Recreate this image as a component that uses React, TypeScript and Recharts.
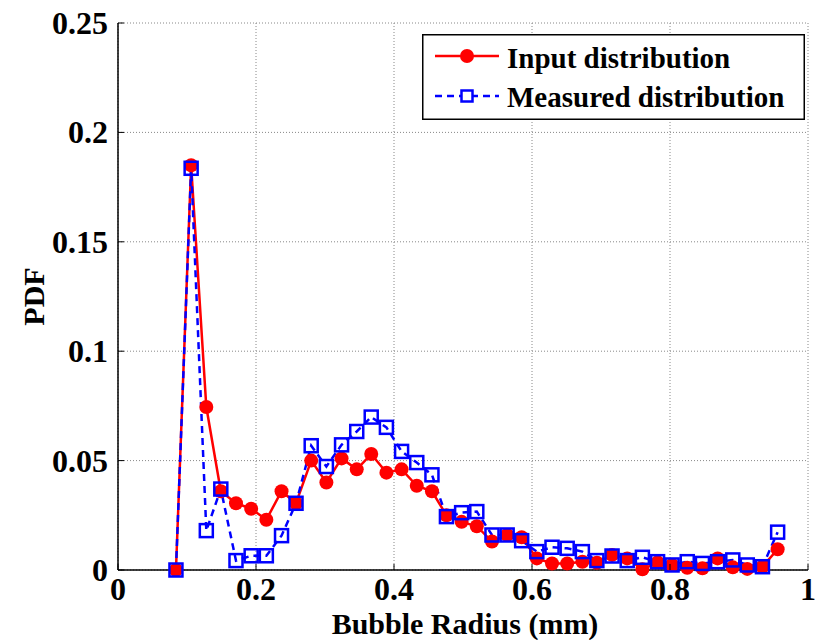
import { LineChart, Line, XAxis, YAxis, CartesianGrid, Legend } from "recharts";

// bubble radius bin centres (mm)
const radius = [
  0.084, 0.106, 0.128, 0.149, 0.171, 0.193, 0.215, 0.237, 0.258, 0.28, 0.302,
  0.324, 0.346, 0.367, 0.389, 0.411, 0.433, 0.455, 0.476, 0.498, 0.52, 0.542,
  0.564, 0.585, 0.607, 0.629, 0.651, 0.673, 0.694, 0.716, 0.738, 0.76, 0.782,
  0.803, 0.825, 0.847, 0.869, 0.891, 0.912, 0.934, 0.956,
];

const inputPdf = [
  0, 0.185, 0.0745, 0.036, 0.0305, 0.028, 0.023, 0.036, 0.0305, 0.05, 0.04,
  0.051, 0.046, 0.053, 0.0445, 0.046, 0.0385, 0.036, 0.025, 0.022, 0.02, 0.013,
  0.016, 0.015, 0.0053, 0.003, 0.003, 0.0038, 0.0033, 0.0069, 0.0053, 0.0003,
  0.0035, 0.0023, 0.001, 0.0008, 0.0053, 0.0012, 0.0005, 0.0015, 0.0095,
];

const measuredPdf = [
  0, 0.1836, 0.018, 0.037, 0.0043, 0.0065, 0.0065, 0.0157, 0.0305, 0.0568,
  0.0473, 0.0572, 0.0633, 0.0699, 0.0652, 0.0542, 0.0491, 0.0435, 0.0244,
  0.0262, 0.0267, 0.016, 0.016, 0.0134, 0.0084, 0.0104, 0.0099, 0.0084, 0.0043,
  0.0064, 0.0043, 0.0058, 0.0038, 0.0023, 0.0038, 0.003, 0.0038, 0.0046, 0.0023,
  0.0015, 0.0173,
];

const xTicks = [0, 0.2, 0.4, 0.6, 0.8, 1];
const yTicks = [0, 0.05, 0.1, 0.15, 0.2, 0.25];

const seriesNames = ["Input distribution", "Measured distribution"];

const data = radius.map((r, i) => ({
  r,
  input: inputPdf[i],
  measured: measuredPdf[i],
}));

// serif face, like MATLAB's Times
const serif = {
  fontFamily: '"Liberation Serif", "Times New Roman", Tinos, "DejaVu Serif", serif',
  fontWeight: 700,
};

const fmt = (v: number) => (v === 0 ? "0" : String(v));

const BottomTick = (props: any) => {
  const { x, y, payload } = props;
  const axisY = y - 8;
  return (
    <g>
      <line x1={x} x2={x} y1={axisY} y2={axisY - 6} stroke="#000" />
      <text x={x} y={y + 22} textAnchor="middle" style={{ ...serif, fontSize: 32 }} fill="#000">
        {fmt(payload.value)}
      </text>
    </g>
  );
};

const TopTick = (props: any) => {
  const { x, y } = props;
  return <line x1={x} x2={x} y1={y} y2={y + 6} stroke="#000" />;
};

const LeftTick = (props: any) => {
  const { x, y, payload } = props;
  const axisX = x + 10;
  return (
    <g>
      <line x1={axisX} x2={axisX + 6} y1={y} y2={y} stroke="#000" />
      <text x={x} y={y + 11} textAnchor="end" style={{ ...serif, fontSize: 32 }} fill="#000">
        {fmt(payload.value)}
      </text>
    </g>
  );
};

const RightTick = (props: any) => {
  const { x, y } = props;
  return <line x1={x} x2={x - 6} y1={y} y2={y} stroke="#000" />;
};

const SquareDot = (props: any) => {
  const { cx, cy, index } = props;
  if (cx == null || cy == null) return <g key={index} />;
  return (
    <rect key={index} x={cx - 6.5} y={cy - 6.5} width={13} height={13} fill="none" stroke="#0000ff" strokeWidth={2.5} />
  );
};

const XLabel = (props: any) => {
  const { viewBox } = props;
  return (
    <text x={viewBox.x + viewBox.width / 2 + 2} y={634} textAnchor="middle" style={{ ...serif, fontSize: 30 }} fill="#000">
      Bubble Radius (mm)
    </text>
  );
};

const YLabel = (props: any) => {
  const { viewBox } = props;
  const cx = 44;
  const cy = viewBox.y + viewBox.height / 2;
  return (
    <text x={cx} y={cy} transform={`rotate(-90, ${cx}, ${cy})`} textAnchor="middle" style={{ ...serif, fontSize: 30 }} fill="#000">
      PDF
    </text>
  );
};

const LegendBox = () => (
  <svg width={383} height={86} style={{ display: "block" }}>
    <rect x={0.75} y={0.75} width={381.5} height={84.5} fill="#fff" stroke="#000" strokeWidth={1.5} />
    <line x1={13} x2={77} y1={22} y2={22} stroke="#ff0000" strokeWidth={2.5} />
    <circle cx={45} cy={22} r={7} fill="#ff0000" />
    <text x={85} y={34} style={{ ...serif, fontSize: 29 }} fill="#000">
      {seriesNames[0]}
    </text>
    <line x1={13} x2={77} y1={62} y2={62} stroke="#0000ff" strokeWidth={2.5} strokeDasharray="7 5" />
    <rect x={39.5} y={56.5} width={11} height={11} fill="#fff" stroke="#0000ff" strokeWidth={2.5} />
    <text x={85} y={73} style={{ ...serif, fontSize: 29 }} fill="#000">
      {seriesNames[1]}
    </text>
  </svg>
);

export default function App() {
  return (
    <div style={{ position: "absolute", left: 0, top: 0, background: "#fff" }}>
      <LineChart width={819} height={640} data={data} margin={{ top: 23, right: 11, left: 0, bottom: 0 }}>
        <CartesianGrid stroke="#888" strokeDasharray="1 2" />
        <XAxis
          dataKey="r"
          type="number"
          domain={[0, 1]}
          ticks={xTicks}
          height={70}
          tickSize={0}
          tickMargin={8}
          tick={<BottomTick />}
          axisLine={{ stroke: "#000", strokeWidth: 1.5 }}
          label={<XLabel />}
        />
        <XAxis
          xAxisId="top"
          dataKey="r"
          type="number"
          orientation="top"
          domain={[0, 1]}
          ticks={xTicks}
          height={0}
          tickSize={0}
          tick={<TopTick />}
          axisLine={{ stroke: "#000", strokeWidth: 1.5 }}
        />
        <YAxis
          type="number"
          domain={[0, 0.25]}
          ticks={yTicks}
          width={118}
          tickSize={0}
          tickMargin={10}
          tick={<LeftTick />}
          axisLine={{ stroke: "#000", strokeWidth: 1.5 }}
          label={<YLabel />}
        />
        <YAxis
          yAxisId="right"
          type="number"
          orientation="right"
          domain={[0, 0.25]}
          ticks={yTicks}
          width={0}
          tickSize={0}
          tick={<RightTick />}
          axisLine={{ stroke: "#000", strokeWidth: 1.5 }}
        />
        <Line
          dataKey="input"
          name={seriesNames[0]}
          stroke="#ff0000"
          strokeWidth={2.5}
          dot={{ r: 7, fill: "#ff0000", stroke: "#ff0000", strokeWidth: 0 }}
          activeDot={false}
          isAnimationActive={false}
        />
        <Line
          dataKey="measured"
          name={seriesNames[1]}
          stroke="#0000ff"
          strokeWidth={2.5}
          strokeDasharray="7 5"
          dot={<SquareDot />}
          activeDot={false}
          isAnimationActive={false}
        />
        <Legend
          layout="horizontal"
          verticalAlign="middle"
          align="center"
          content={<LegendBox />}
          wrapperStyle={{ left: 422, top: 34, width: 383, height: 86 }}
        />
      </LineChart>
    </div>
  );
}
